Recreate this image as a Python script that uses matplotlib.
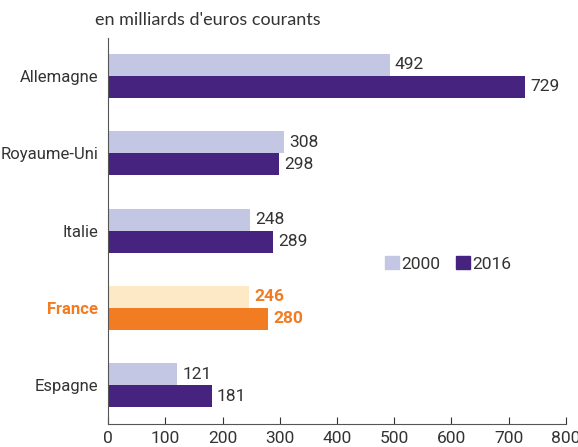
import numpy as np
import matplotlib.pyplot as plt
from matplotlib.patches import Patch

countries = ['Allemagne', 'Royaume-Uni', 'Italie', 'France', 'Espagne']
v2000 = [492, 308, 248, 246, 121]
v2016 = [729, 298, 289, 280, 181]
highlight = 'France'

light = '#c4c7e3'
dark = '#45237f'
fr_light = '#fde9c5'
fr_dark = '#f27c22'
txt = '#333333'
cond = 'Roboto'

fig = plt.figure(figsize=(5.78, 4.47), dpi=100)
ax = fig.add_axes([0.187, 0.0515, 0.792, 0.8635])

y = np.arange(len(countries))
h = 0.285
for i, c in enumerate(countries):
    hl = c == highlight
    c1 = fr_light if hl else light
    c2 = fr_dark if hl else dark
    ax.barh(y[i] - h / 2, v2000[i], height=h, color=c1)
    ax.barh(y[i] + h / 2, v2016[i], height=h, color=c2)
    tc = fr_dark if hl else txt
    fw = 'bold' if hl else 'normal'
    ax.text(v2000[i] + 9, y[i] - h / 2, str(v2000[i]), va='center', ha='left',
            fontsize=12.5, color=tc, fontweight=fw, family=cond)
    ax.text(v2016[i] + 9, y[i] + h / 2, str(v2016[i]), va='center', ha='left',
            fontsize=12.5, color=tc, fontweight=fw, family=cond)

ax.set_ylim(len(countries) - 0.5, -0.49)
ax.set_xlim(0, 800)
ax.set_yticks(y)
ax.set_yticklabels(countries, family=cond, fontsize=12, color=txt)
for lab in ax.get_yticklabels():
    if lab.get_text() == highlight:
        lab.set_color(fr_dark)
        lab.set_fontweight('bold')
ax.tick_params(axis='y', length=0, pad=7)
ax.set_xticks(np.arange(0, 801, 100))
ax.tick_params(axis='x', direction='in', length=5, color=txt, labelsize=12.5,
               labelcolor=txt, pad=5)
for lab in ax.get_xticklabels():
    lab.set_family(cond)
for s in ['top', 'right']:
    ax.spines[s].set_visible(False)
ax.spines['left'].set_color('#555555')
ax.spines['bottom'].set_color('#555555')

handles = [Patch(color=light, label='2000'), Patch(color=dark, label='2016')]
leg = ax.legend(handles=handles, loc='center left', bbox_to_anchor=(0.57, 0.415),
                ncol=2, frameon=False, handlelength=0.8, handleheight=0.8,
                handletextpad=0.15, columnspacing=0.9,
                prop={'family': cond, 'size': 12.5})
for t in leg.get_texts():
    t.set_color(txt)

fig.text(0.165, 0.955, "en milliards d'euros courants", fontsize=13,
         family='Lato', color=txt, va='center')

fig.savefig('out.png', dpi=100)
